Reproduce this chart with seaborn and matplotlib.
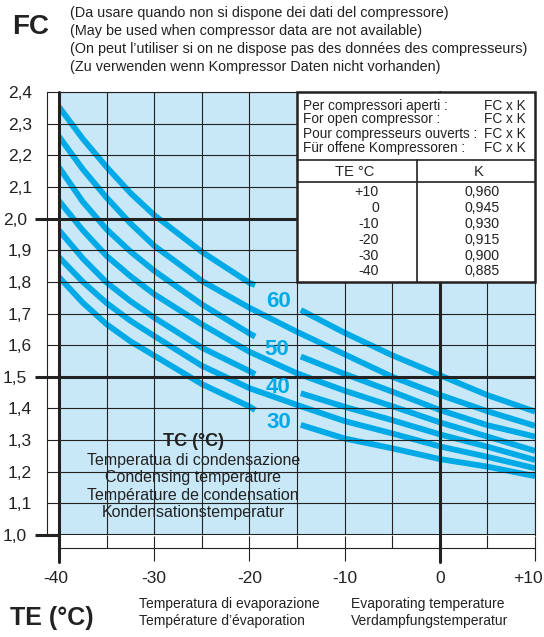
import numpy as np
import pandas as pd
import matplotlib
matplotlib.use("Agg")
import matplotlib.pyplot as plt
from matplotlib.patches import Rectangle
from matplotlib.transforms import ScaledTranslation
import seaborn as sns

# Evaporating temperature TE (°C) where the curves were read
te = [-40, -37.5, -35, -32.5, -30, -25, -20, -15, -10, -5, 0, 5, 10]
nan = np.nan

# Correction factor FC for each condensing temperature TC (°C)
fc_60 = [2.353, 2.252, 2.163, 2.081, 2.011, 1.895, 1.797, nan, 1.639, 1.568, 1.505, 1.442, 1.390]
fc_55 = [2.259, 2.156, 2.066, 1.985, 1.914, 1.803, 1.718, 1.642, 1.571, 1.500, 1.443, 1.391, 1.345]
fc_50 = [2.162, 2.053, 1.966, 1.896, 1.835, 1.729, 1.637, nan, 1.509, 1.453, 1.395, 1.347, 1.311]
fc_45 = [2.056, 1.963, 1.882, 1.818, 1.761, 1.666, 1.579, 1.511, 1.456, 1.407, 1.356, 1.311, 1.266]
fc_40 = [1.963, 1.874, 1.798, 1.739, 1.687, 1.592, 1.518, nan, 1.405, 1.363, 1.318, 1.279, 1.237]
fc_35 = [1.878, 1.800, 1.733, 1.677, 1.629, 1.535, 1.464, 1.411, 1.360, 1.321, 1.280, 1.247, 1.211]
fc_30 = [1.815, 1.734, 1.666, 1.612, 1.567, 1.477, 1.406, nan, 1.305, 1.274, 1.240, 1.216, 1.186]

# labelled curves are broken where their number sits: end / restart points
gap_te = [-19.4, -14.6]
gap_60 = [1.790, 1.711]
gap_50 = [1.627, 1.564]
gap_40 = [1.508, 1.448]
gap_30 = [1.395, 1.348]

curves = {60: fc_60, 55: fc_55, 50: fc_50, 45: fc_45, 40: fc_40, 35: fc_35, 30: fc_30}
gaps = {60: gap_60, 50: gap_50, 40: gap_40, 30: gap_30}

# K table for open compressors
k_te = ["+10", "0", "-10", "-20", "-30", "-40"]
k_values = [0.960, 0.945, 0.930, 0.915, 0.900, 0.885]

x_ticks = [-40, -30, -20, -10, 0, 10]
x_labels = ["-40", "-30", "-20", "-10", "0", "+10"]
y_major = [1.0, 1.5, 2.0]
y_minor = [1.1, 1.2, 1.3, 1.4, 1.6, 1.7, 1.8, 1.9, 2.1, 2.2, 2.3, 2.4]

CYAN = "#00aae6"
FILL = "#c8e8f8"
INK = "#222222"

sns.set_theme(style="white")
plt.rcParams["font.family"] = ["Liberation Sans", "DejaVu Sans"]
NARROW = ["Liberation Sans Narrow", "Liberation Sans", "DejaVu Sans"]


def comma(v, nd=1):
    return f"{v:.{nd}f}".replace(".", ",")


# long table of line segments
rows = []
for tc, fc in curves.items():
    pts = list(zip(te, fc))
    if tc in gaps:
        left = [p for p in pts if p[0] <= -20] + [(gap_te[0], gaps[tc][0])]
        right = [(gap_te[1], gaps[tc][1])] + [p for p in pts if p[0] >= -10]
        segs = [left, right]
    else:
        segs = [pts]
    for i, seg in enumerate(segs):
        for t, f in seg:
            rows.append({"TE": t, "FC": f, "TC": tc, "seg": f"{tc}_{i}"})
df = pd.DataFrame(rows)

W, H = 544, 637
fig = plt.figure(figsize=(W / 100, H / 100), dpi=100)
ax = fig.add_axes([59 / W, 1 - 535 / H, 476 / W, 443 / H])
ax.set_facecolor(FILL)

sns.lineplot(data=df, x="TE", y="FC", units="seg", estimator=None, sort=False,
             color=CYAN, lw=4.2, solid_capstyle="butt", solid_joinstyle="round",
             ax=ax, legend=False)

ax.set_xlim(-40, 10)
ax.set_ylim(1.0, 2.4)
ax.set_xlabel("")
ax.set_ylabel("")

# ticks: major 10 deg / half units, minor the rest
ax.set_xticks(x_ticks, x_labels)
ax.set_xticks([-35, -25, -15, -5, 5], minor=True)
ax.set_yticks(y_major, [comma(v) for v in y_major])
ax.set_yticks(y_minor, [comma(v) for v in y_minor], minor=True)

ax.spines["left"].set_position(("outward", 12 * 0.72))
ax.spines["bottom"].set_position(("outward", 13 * 0.72))
for s in ax.spines.values():
    s.set_color(INK)
    s.set_linewidth(0.8)

ax.tick_params(axis="y", which="major", direction="inout", length=24 * 0.72, width=2.2,
               color=INK, pad=6, labelsize=12.5, labelcolor=INK)
ax.tick_params(axis="y", which="minor", direction="in", length=12 * 0.72, width=0.8,
               color=INK, pad=10.8, labelsize=12.5, labelcolor=INK)
ax.tick_params(axis="x", which="major", direction="inout", length=25 * 0.72, width=0.8,
               color=INK, pad=7.5, labelsize=12.5, labelcolor=INK)
ax.tick_params(axis="x", which="minor", direction="in", length=13 * 0.72, width=0.8, color=INK)
ax.tick_params(left=True, bottom=True, which="both")

# end labels pulled in like the printed chart
xl = ax.get_xticklabels()
xl[0].set_transform(xl[0].get_transform() + ScaledTranslation(-3 / 100, 0, fig.dpi_scale_trans))
xl[-1].set_horizontalalignment("right")
xl[-1].set_transform(xl[-1].get_transform() + ScaledTranslation(8 / 100, 0, fig.dpi_scale_trans))

ax.set_axisbelow(False)
ax.yaxis.grid(True, which="major", color=INK, lw=2.2)
ax.yaxis.grid(True, which="minor", color=INK, lw=0.8)
ax.xaxis.grid(True, which="both", color=INK, lw=0.8)

# heavy verticals at -40 and 0 run down below the frame
for xv in (-40, 0):
    ax.axvline(xv, ymin=-27 / 443, ymax=1, color=INK, lw=2.2, clip_on=False, zorder=2.6)

# curve numbers
for tc, (tx, ty) in {60: (-16.9, 1.737), 50: (-17.1, 1.587),
                     40: (-17.0, 1.467), 30: (-16.9, 1.355)}.items():
    ax.text(tx, ty, str(tc), color=CYAN, fontsize=16, fontweight="bold",
            ha="center", va="center", zorder=3)

# TC caption inside the chart
ax.text(-25.9, 1.297, "TC (°C)", ha="center", va="center", fontsize=13,
        fontweight="bold", color=INK, zorder=3)
for txt, yy in zip(["Temperatua di condensazione", "Condensing temperature",
                    "Température de condensation", "Kondensationstemperatur"],
                   [1.237, 1.183, 1.126, 1.070]):
    ax.text(-25.9, yy, txt, ha="center", va="center", fontsize=11.5, color=INK, zorder=3)

# K table in the upper right corner
ax.add_patch(Rectangle((-15, 1.8), 25, 0.6, facecolor="white", edgecolor=INK,
                       lw=1.8, zorder=4, clip_on=False))
ax.plot([-15, 10], [2.185, 2.185], color=INK, lw=1.2, zorder=5, clip_on=False)
ax.plot([-15, 10], [2.116, 2.116], color=INK, lw=1.2, zorder=5, clip_on=False)
ax.plot([-2.4, -2.4], [1.8, 2.185], color=INK, lw=1.2, zorder=5, clip_on=False)
for txt, yy in zip(["Per compressori aperti :", "For open compressor :",
                    "Pour compresseurs ouverts :", "Für offene Kompressoren :"],
                   [2.356, 2.314, 2.268, 2.224]):
    ax.text(-14.4, yy, txt, ha="left", va="center", fontsize=9.8, color=INK, zorder=6)
    ax.text(9.0, yy, "FC x K", ha="right", va="center", fontsize=9.8, color=INK, zorder=6)
ax.text(-8.9, 2.147, "TE °C", ha="center", va="center", fontsize=10.5, color=INK, zorder=6)
ax.text(4.1, 2.147, "K", ha="center", va="center", fontsize=10.5, color=INK, zorder=6)
for t, k, yy in zip(k_te, k_values, [2.083, 2.033, 1.983, 1.933, 1.883, 1.834]):
    ax.text(-6.4, yy, t, ha="right", va="center", fontsize=10.2, color=INK, zorder=6)
    ax.text(4.4, yy, comma(k, 3), ha="center", va="center", fontsize=10.2, color=INK, zorder=6)


def px(x, y):
    return x / W, 1 - y / H


# titles and captions outside the axes
fig.text(*px(31, 27), "FC", fontsize=20, fontweight="bold", family=NARROW,
         ha="center", va="center", color=INK)
for txt, yy in zip(["(Da usare quando non si dispone dei dati del compressore)",
                    "(May be used when compressor data are not available)",
                    "(On peut l’utiliser si on ne dispose pas des données des compresseurs)",
                    "(Zu verwenden wenn Kompressor Daten nicht vorhanden)"],
                   [13, 31, 49, 67]):
    fig.text(*px(70, yy), txt, fontsize=10.4, ha="left", va="center", color=INK)

fig.text(*px(52, 618), "TE (°C)", fontsize=18, fontweight="bold", family=NARROW,
         ha="center", va="center", color=INK)
fig.text(*px(139, 604), "Temperatura di evaporazione", fontsize=10, va="center", color=INK)
fig.text(*px(139, 621), "Température d’évaporation", fontsize=10, va="center", color=INK)
fig.text(*px(351, 604), "Evaporating temperature", fontsize=10, va="center", color=INK)
fig.text(*px(351, 621), "Verdampfungstemperatur", fontsize=10, va="center", color=INK)

fig.savefig("out.png", dpi=100)
